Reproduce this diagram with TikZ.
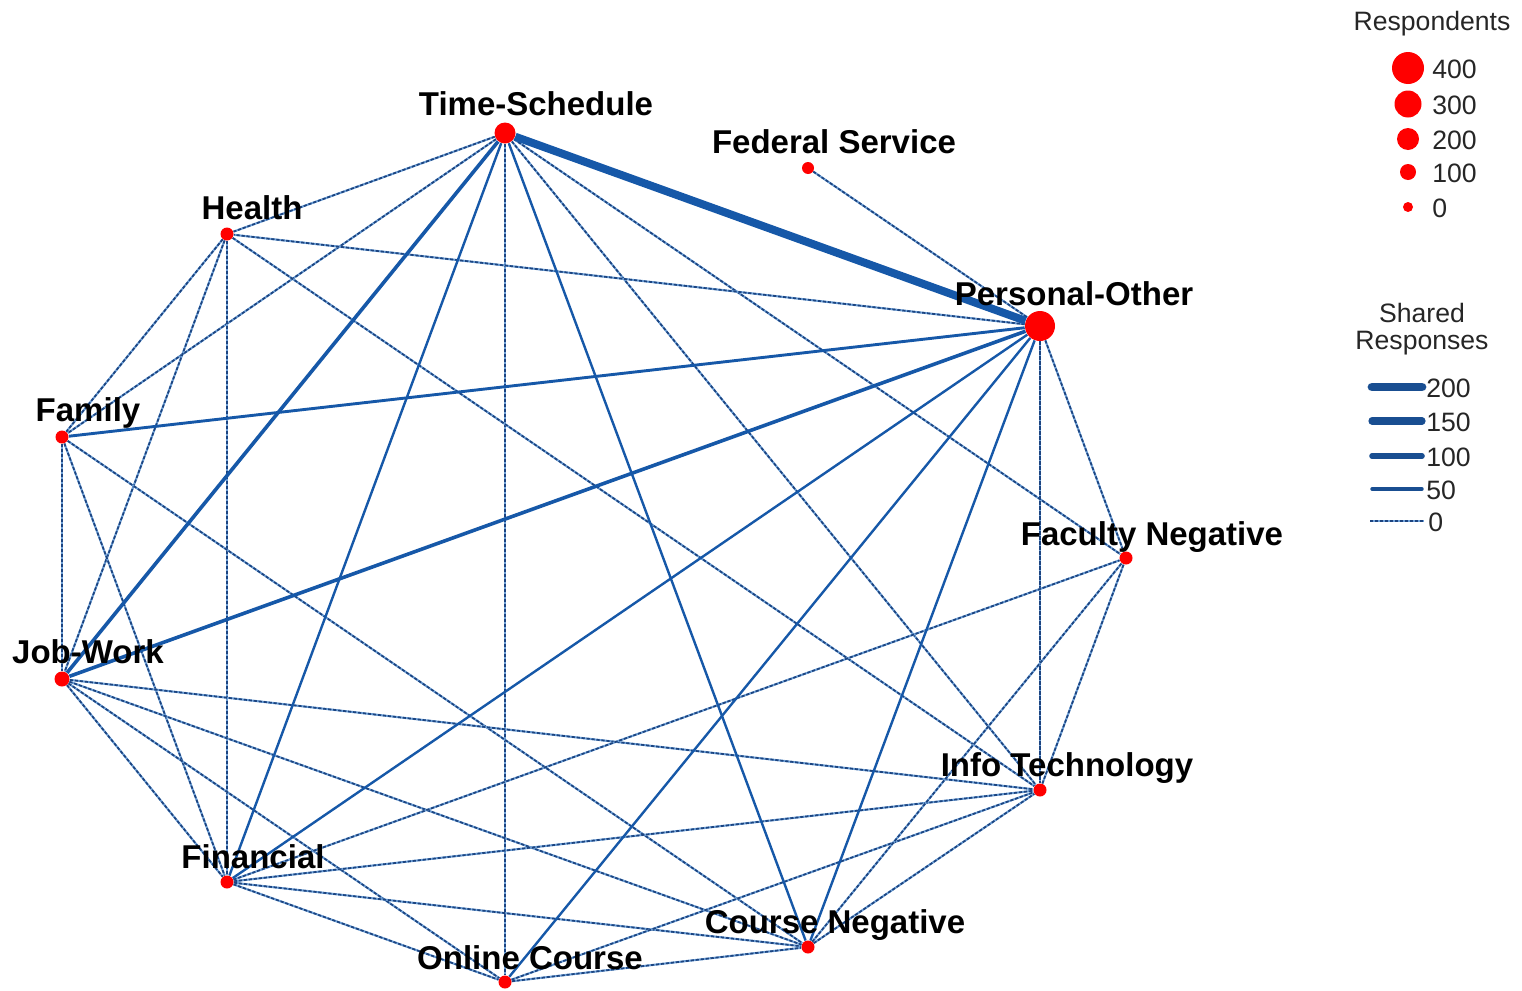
\documentclass[tikz,border=0pt]{standalone}
\usepackage{fontspec}
\setmainfont{Liberation Sans}
\usetikzlibrary{backgrounds}
\definecolor{dotred}{RGB}{255,0,0}
\definecolor{edgeblue}{RGB}{22,88,168}
\definecolor{legblue}{RGB}{25,78,145}
\definecolor{dashdark}{RGB}{28,68,128}
\definecolor{dashlight}{RGB}{110,160,215}
\begin{document}
\begin{tikzpicture}[x=0.5pt,y=-0.5pt,
  dot/.style={circle,fill=dotred,draw=none,inner sep=0pt},
  lab/.style={font=\fontsize{16.5}{18}\selectfont\bfseries,text=black,inner sep=0pt,anchor=base},
  legtxt/.style={font=\fontsize{13.3}{13.6}\selectfont,text=black!85,inner sep=0pt},
  zero/.style={draw=dashdark,line width=0.85pt,dash pattern=on 1.6pt off 0.9pt,
    preaction={draw=dashlight,line width=1.05pt,solid}},
  wfifty/.style={draw=edgeblue,line width=1.2pt},
  wsixty/.style={draw=edgeblue,line width=1.45pt},
  wcent/.style={draw=edgeblue,line width=1.8pt},
  wtop/.style={draw=edgeblue,line width=4pt},
  legline/.style={draw=legblue,line cap=round}
]
\useasboundingbox (0,0) rectangle (1522,991);

% nodes (dots)
\node[dot,minimum size=10.5pt] (ts) at (505,133) {};
\node[dot,minimum size=6pt]    (fs) at (808,168) {};
\node[dot,minimum size=6.5pt]  (h)  at (227,234) {};
\node[dot,minimum size=15pt]   (po) at (1040,326) {};
\node[dot,minimum size=6.5pt]  (fa) at (62,437) {};
\node[dot,minimum size=6.5pt]  (fn) at (1126,558) {};
\node[dot,minimum size=7.5pt]  (jw) at (62,679) {};
\node[dot,minimum size=6.5pt]  (it) at (1040,790) {};
\node[dot,minimum size=6.5pt]  (fi) at (227,882) {};
\node[dot,minimum size=6.5pt]  (cn) at (808,947) {};
\node[dot,minimum size=6.5pt]  (oc) at (505,982) {};

\begin{scope}[on background layer]
% dashed (near-zero) links
\draw[zero] (ts) -- (h);
\draw[zero] (ts) -- (fa);
\draw[zero] (ts) -- (oc);
\draw[zero] (ts) -- (it);
\draw[zero] (ts) -- (fn);
\draw[zero] (fs) -- (po);
\draw[zero] (po) -- (h);
\draw[zero] (po) -- (it);
\draw[zero] (po) -- (fn);
\draw[zero] (h) -- (fa);
\draw[zero] (h) -- (jw);
\draw[zero] (h) -- (fi);
\draw[zero] (h) -- (it);
\draw[zero] (fa) -- (jw);
\draw[zero] (fa) -- (fi);
\draw[zero] (fa) -- (cn);
\draw[zero] (jw) -- (fi);
\draw[zero] (jw) -- (oc);
\draw[zero] (jw) -- (cn);
\draw[zero] (jw) -- (it);
\draw[zero] (fi) -- (fn);
\draw[zero] (fi) -- (it);
\draw[zero] (fi) -- (cn);
\draw[zero] (fi) -- (oc);
\draw[zero] (oc) -- (it);
\draw[zero] (oc) -- (cn);
\draw[zero] (cn) -- (fn);
\draw[zero] (cn) -- (it);
\draw[zero] (it) -- (fn);
% solid links
\draw[wfifty] (ts) -- (cn);
\draw[wfifty] (ts) -- (fi);
\draw[wfifty] (po) -- (fi);
\draw[wfifty] (po) -- (oc);
\draw[wfifty] (po) -- (cn);
\draw[wsixty] (po) -- (fa);
\draw[wcent] (ts) -- (jw);
\draw[wcent] (po) -- (jw);
\draw[wtop] (ts) -- (po);
\end{scope}

% labels
\node[lab] (tsl) at (536,115) {Time-Schedule};
\node[lab] (fsl) at (834,153) {Federal Service};
\node[lab] (hl)  at (252,219) {Health};
\node[lab] (pol) at (1074,305) {Personal-Other};
\node[lab] (fal) at (88,421) {Family};
\node[lab] (fnl) at (1152,545) {Faculty Negative};
\node[lab] (jwl) at (88,663) {Job-Work};
\node[lab] (itl) at (1067,776) {Info Technology};
\node[lab] (fil) at (253,868) {Financial};
\node[lab] (cnl) at (835,933) {Course Negative};
\node[lab] (ocl) at (530,969) {Online Course};

% legend: respondents
\node[legtxt,anchor=base] (rtitle) at (1432,30) {Respondents};
\node[dot,minimum size=16pt]  (r400) at (1408,68) {};
\node[dot,minimum size=13.5pt](r300) at (1408,104) {};
\node[dot,minimum size=11pt]  (r200) at (1408,139) {};
\node[dot,minimum size=8pt]   (r100) at (1408,172) {};
\node[dot,minimum size=5pt]   (r0)   at (1408,207) {};
\node[legtxt,anchor=base west] (t400) at (1432,78) {400};
\node[legtxt,anchor=base west] (t300) at (1432,114) {300};
\node[legtxt,anchor=base west] (t200) at (1432,149) {200};
\node[legtxt,anchor=base west] (t100) at (1432,182) {100};
\node[legtxt,anchor=base west] (t0)   at (1432,217) {0};

% legend: shared responses
\node[legtxt,align=center,font=\fontsize{13.3}{13.6}\selectfont] (stitle) at (1422,329) {Shared\\Responses};
\draw[legline,line width=4.4pt] (1372,387) -- (1422,387);
\draw[legline,line width=3.6pt] (1372,421) -- (1422,421);
\draw[legline,line width=2.8pt] (1372,456) -- (1422,456);
\draw[legline,line width=1.7pt] (1372,489) -- (1422,489);
\draw[zero] (1370,521) -- (1424,521);
\node[legtxt,anchor=base west] (s200) at (1426,397) {200};
\node[legtxt,anchor=base west] (s150) at (1426,431) {150};
\node[legtxt,anchor=base west] (s100) at (1426,466) {100};
\node[legtxt,anchor=base west] (s50)  at (1426,499) {50};
\node[legtxt,anchor=base west] (s0)   at (1428,531) {0};
\end{tikzpicture}
\end{document}
